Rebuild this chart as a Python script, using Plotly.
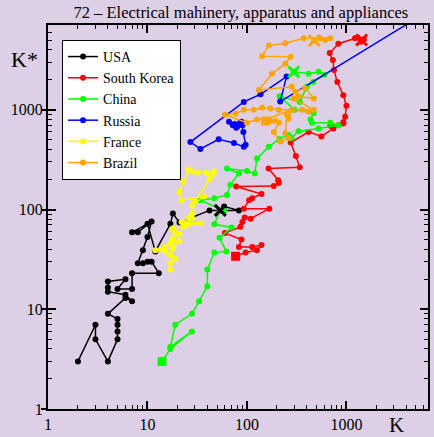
import plotly.graph_objects as go

# ---------------- data (K, K*) ----------------
usa_x = [2, 3, 3, 4, 5, 5, 5, 5, 4, 6, 7, 6, 4, 4, 4, 6, 5, 7, 7, 13, 11, 10, 9, 8, 9, 10, 11, 8, 7, 10, 12, 17, 18, 21, 42, 83, 59, 54]
usa_y = [3, 7, 5, 3, 5, 6, 7, 8, 9, 13, 12, 14, 15, 16.5, 19, 20, 16, 16, 23, 23, 30, 30, 29, 29, 39, 53, 76, 59, 59, 72, 38, 72, 91, 74, 98, 98, 107, 98]

korea_x = [77, 97, 126, 140, 113, 83, 88, 60, 86, 90, 95, 109, 168, 93, 105, 113, 140, 78, 186, 209, 206, 165, 339, 310, 275, 417, 560, 740, 930, 690, 830, 930, 970, 1000, 930, 810, 750, 730, 680, 830, 1220, 1300, 1500, 1400, 1420]
korea_y = [34, 37, 39, 44, 42, 42, 50, 58, 67, 75, 83, 81, 102, 102, 124, 130, 143, 170, 172, 184, 197, 258, 265, 345, 470, 600, 540, 650, 730, 690, 700, 750, 850, 1100, 1400, 1900, 2500, 3150, 3700, 4600, 5200, 5300, 5100, 4800, 5000]

china_x = [14, 17, 28, 17, 19, 28, 33, 40, 40, 47, 62, 53, 70, 47, 54, 59, 34, 47, 63, 68, 83, 63, 100, 120, 126, 166, 212, 263, 280, 330, 525, 830, 690, 450, 435, 470, 300, 213, 340, 400, 465, 600, 525, 417, 295]
china_y = [3, 4, 6, 4.2, 7, 9, 12, 17, 25, 37, 38, 52, 66, 71, 99, 97, 124, 130, 140, 177, 230, 258, 243, 230, 325, 425, 510, 560, 520, 610, 650, 700, 740, 740, 800, 930, 1000, 1370, 1200, 1700, 1900, 2250, 2400, 2300, 2400]

russia_x = [80, 66, 72, 85, 75, 90, 78, 88, 92, 97, 93, 74, 52, 34, 27, 93, 137, 250, 216, 10000]
russia_y = [680, 760, 700, 740, 720, 700, 660, 760, 600, 445, 425, 465, 505, 405, 475, 1200, 1430, 2150, 1210, 12500]

france_x = [17, 17, 19, 17, 15, 12, 15, 17, 21, 18, 18, 21, 19, 18, 23, 25, 34, 22, 26, 28, 28, 28, 37, 22, 21, 23, 26, 28, 32, 39, 44, 47, 42, 30]
france_y = [25, 29, 32, 35, 38, 39, 42, 46, 48, 41, 51, 57, 59, 65, 67, 70, 73, 75, 82, 82, 91, 110, 135, 124, 150, 190, 252, 240, 235, 233, 222, 240, 200, 120]

brazil_x = [154, 172, 194, 209, 186, 216, 263, 243, 252, 263, 282, 209, 172, 142, 117, 93, 77, 60, 100, 126, 154, 282, 360, 417, 470, 295, 330, 470, 385, 305, 282, 132, 179, 243, 275, 142, 166, 243, 372, 545, 690, 612, 475]
brazil_y = [770, 770, 770, 740, 600, 480, 520, 580, 890, 820, 1000, 1000, 1030, 1050, 1000, 1000, 920, 890, 740, 800, 800, 1000, 1000, 960, 1000, 1300, 1360, 1300, 1650, 1520, 1700, 1580, 2300, 2900, 3400, 3450, 4400, 4650, 5200, 5200, 5200, 5000, 4950]

series = [
    ("USA", usa_x, usa_y, "#000000", False, True),
    ("South Korea", korea_x, korea_y, "#ff0000", True, True),
    ("China", china_x, china_y, "#00ff00", True, True),
    ("Russia", russia_x, russia_y, "#0000ff", False, False),
    ("France", france_x, france_y, "#ffff00", False, False),
    ("Brazil", brazil_x, brazil_y, "#ffa500", True, True),
]

tick_vals = [1, 10, 100, 1000]
tick_text = ["1", "10", "100", "1000"]

SERIF = "Liberation Serif, Times New Roman, serif"
BG = "rgb(220,207,230)"

fig = go.Figure()
for name, xs, ys, col, start_mark, end_mark in series:
    fig.add_trace(go.Scatter(
        x=xs, y=ys, mode="lines+markers", name=name,
        line=dict(color=col, width=1.5),
        marker=dict(color=col, size=6),
        hoverinfo="skip",
    ))
for name, xs, ys, col, start_mark, end_mark in series:
    if start_mark:
        fig.add_trace(go.Scatter(x=[xs[0]], y=[ys[0]], mode="markers", showlegend=False,
                                 marker=dict(color=col, size=9, symbol="square"), hoverinfo="skip"))
    if end_mark:
        fig.add_trace(go.Scatter(x=[xs[-1]], y=[ys[-1]], mode="markers", showlegend=False,
                                 marker=dict(color=col, size=11, symbol="x-thin",
                                             line=dict(color=col, width=3)), hoverinfo="skip"))

# helper trace for outer half of left major ticks
fig.add_trace(go.Scatter(x=[None], y=[None], yaxis="y2", showlegend=False, hoverinfo="skip"))

axis_common = dict(
    type="log", showgrid=False, zeroline=False,
    showline=True, linecolor="black", linewidth=2, mirror="ticks",
    ticks="inside", ticklen=8, tickwidth=1.5, tickcolor="black",
    tickvals=tick_vals, ticktext=tick_text,
    tickfont=dict(family=SERIF, size=16, color="black"),
    minor=dict(ticks="inside", ticklen=4, tickwidth=1, tickcolor="black",
               dtick="D1", showgrid=False),
)

fig.update_layout(
    width=434, height=437,
    paper_bgcolor=BG, plot_bgcolor=BG,
    margin=dict(l=48, r=4, t=25, b=28),
    title=dict(text="72 – Electrical mahinery, apparatus and appliances",
               font=dict(family=SERIF, size=16.5, color="black"),
               xref="container", x=0.555, xanchor="center",
               yref="container", y=0.973, yanchor="middle"),
    xaxis=dict(range=[0, 3.82], **axis_common),
    yaxis=dict(range=[0, 3.85], **axis_common),
    yaxis2=dict(type="log", range=[0, 3.85], overlaying="y", side="left",
                showgrid=False, zeroline=False, showline=False,
                tickvals=tick_vals, ticks="outside", ticklen=6, tickwidth=1.5,
                tickcolor="black", showticklabels=False),
    legend=dict(x=0.037, y=0.961, xanchor="left", yanchor="top",
                bgcolor="white", bordercolor="black", borderwidth=1,
                font=dict(family=SERIF, size=14, color="black"),
                itemwidth=30, tracegroupgap=0),
    annotations=[
        dict(text="K*", xref="paper", yref="paper", x=-0.063, y=0.909,
             showarrow=False, font=dict(family=SERIF, size=22, color="black"),
             xanchor="center", yanchor="middle"),
        dict(text="K", xref="paper", yref="paper", x=0.916, y=-0.042,
             showarrow=False, font=dict(family=SERIF, size=21, color="black"),
             xanchor="center", yanchor="middle"),
    ],
    showlegend=True,
)

fig.write_html("out.html")
